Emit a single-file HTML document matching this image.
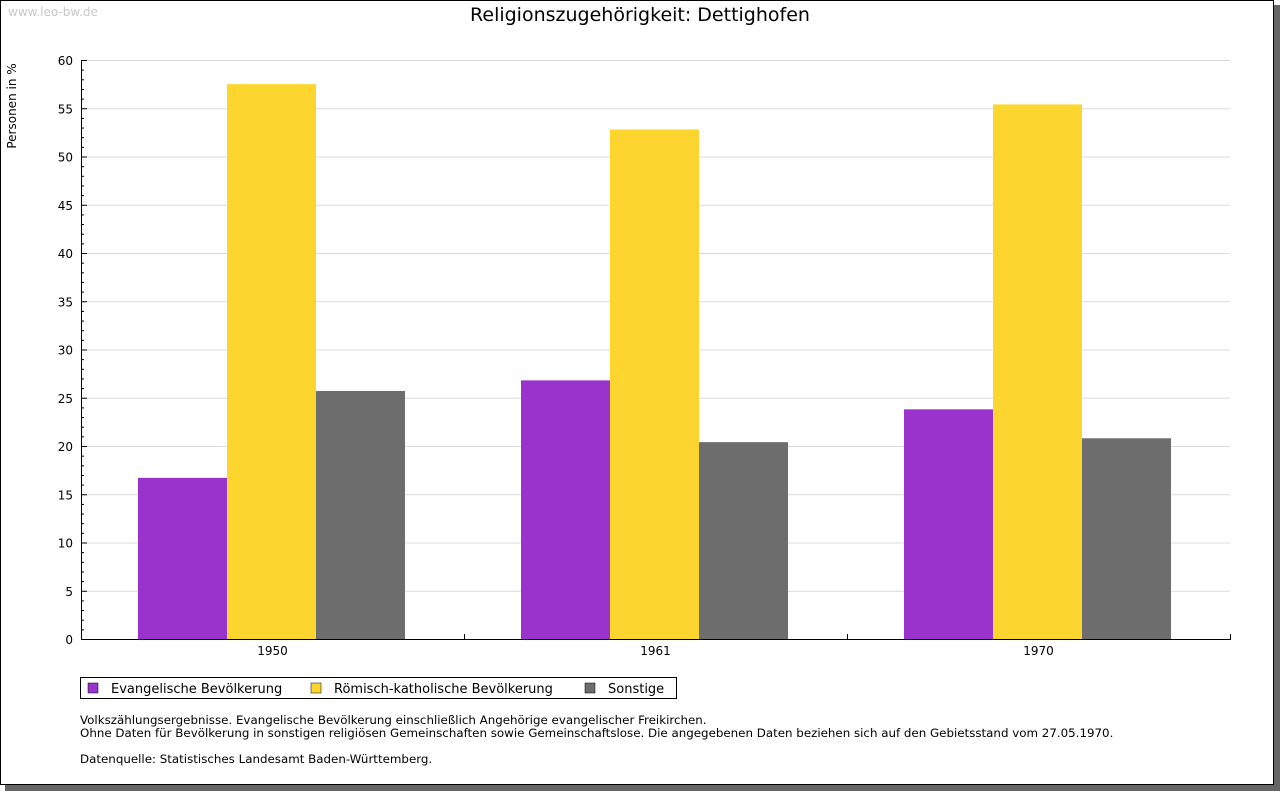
<!DOCTYPE html>
<html><head><meta charset="utf-8"><style>
body{margin:0;background:#fff;font-family:"DejaVu Sans","Liberation Sans",sans-serif}
svg text{font-family:"DejaVu Sans","Liberation Sans",sans-serif}
</style></head><body>
<svg id="chart" width="1280" height="791" xmlns="http://www.w3.org/2000/svg">
<rect x="5" y="5" width="1275" height="786" fill="#666"/>
<rect x="0.5" y="0.5" width="1273" height="784" fill="#fff" stroke="#000"/>
<text x="8" y="16" font-size="12" fill="#c8c8c8">www.leo-bw.de</text>
<text x="640" y="21" font-size="19" text-anchor="middle">Religionszugehörigkeit: Dettighofen</text>
<text transform="translate(16,106) rotate(-90)" font-size="12" text-anchor="middle">Personen in %</text>
<g id="grid"></g><g id="bars"></g><g id="axes"></g>
<g>
<rect x="80.5" y="677.5" width="596" height="21" fill="#fff" stroke="#000"/>
<rect x="88" y="683" width="10" height="10" fill="#9933cc" stroke="#000" stroke-width="0.5"/>
<text x="111" y="693" font-size="13">Evangelische Bevölkerung</text>
<rect x="311" y="683" width="10" height="10" fill="#fcd52e" stroke="#000" stroke-width="0.5"/>
<text x="334" y="693" font-size="13">Römisch-katholische Bevölkerung</text>
<rect x="585" y="683" width="10" height="10" fill="#6d6d6d" stroke="#000" stroke-width="0.5"/>
<text x="608" y="693" font-size="13">Sonstige</text>
</g>
<g font-size="11.85">
<text x="80" y="724">Volkszählungsergebnisse. Evangelische Bevölkerung einschließlich Angehörige evangelischer Freikirchen.</text>
<text x="80" y="737">Ohne Daten für Bevölkerung in sonstigen religiösen Gemeinschaften sowie Gemeinschaftslose. Die angegebenen Daten beziehen sich auf den Gebietsstand vom 27.05.1970.</text>
<text x="80" y="763">Datenquelle: Statistisches Landesamt Baden-Württemberg.</text>
</g>
</svg>
<script>
const categories=["1950","1961","1970"];
const evangelisch=[16.7,26.8,23.8];
const katholisch=[57.5,52.8,55.4];
const sonstige=[25.7,20.4,20.8];
const yTicks=[0,5,10,15,20,25,30,35,40,45,50,55,60];
const colors=["#9933cc","#fcd52e","#6d6d6d"];
const seriesNames=["evangelisch","katholisch","sonstige"];
const NS="http://www.w3.org/2000/svg";
const X0=81,X1=1230,Y0=639,Y1=60,YMAX=60;
const y=v=>Y0-(Y0-Y1)*v/YMAX;
const gw=(X1-X0)/categories.length;
function mk(t,a,p){const e=document.createElementNS(NS,t);for(const k in a)e.setAttribute(k,a[k]);p.appendChild(e);return e;}
const grid=document.getElementById('grid'),bars=document.getElementById('bars'),axes=document.getElementById('axes');
yTicks.forEach(v=>{
 if(v>0){const l=mk('line',{x1:X0,x2:X1,y1:y(v)+0.5,y2:y(v)+0.5,stroke:'#dcdcdc'},grid);
 
 }
 const t=mk('text',{x:73,y:y(v)+5,'font-size':12,'text-anchor':'end'},axes);t.textContent=v;
 
 
 mk('line',{x1:X0,x2:X0+6,y1:y(v)+0.5,y2:y(v)+0.5,stroke:'#000'},axes);
});
for(let v=0;v<YMAX;v++){if(v%5)mk('line',{x1:X0,x2:X0+3,y1:y(v)+0.5,y2:y(v)+0.5,stroke:'#000'},axes);}
const series=[evangelisch,katholisch,sonstige];
categories.forEach((c,i)=>{
 const gx=X0+gw*i;
 series.forEach((s,j)=>{
  const bx=gx+57+89*j;
  const r=mk('rect',{x:bx,y:y(s[i]),width:89,height:Y0-y(s[i]),fill:colors[j]},bars);
  
  
 });
 const t=mk('text',{x:gx+gw/2,y:655,'font-size':12,'text-anchor':'middle'},axes);t.textContent=c;
 
 
 mk('line',{x1:gx+gw+0.5,x2:gx+gw+0.5,y1:Y0,y2:Y0-5,stroke:'#000'},axes);
});
const ya=mk('line',{x1:X0+0.5,x2:X0+0.5,y1:Y1,y2:Y0+0.5,stroke:'#000'},axes);


const xa=mk('line',{x1:X0,x2:X1+1,y1:Y0+0.5,y2:Y0+0.5,stroke:'#000'},axes);


</script>
</body></html>
